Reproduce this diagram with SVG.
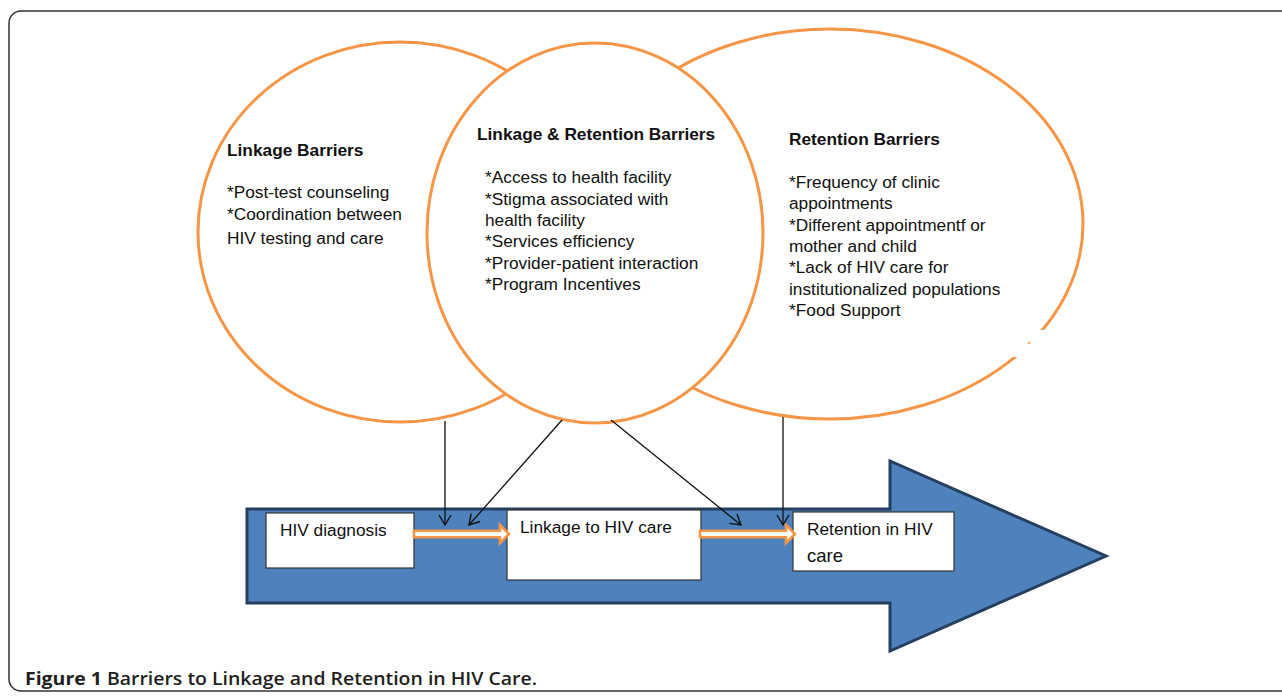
<svg xmlns="http://www.w3.org/2000/svg" width="1282" height="696" viewBox="0 0 1282 696">
<style>
.ell{fill:#fff;stroke:#f79646;stroke-width:3}
.t{font-family:"Liberation Sans",Arial,sans-serif;font-size:17.3px;fill:#111}
.b{font-weight:bold}
.box{fill:#fff;stroke:#333;stroke-width:1.2}
.conn{stroke:#111;stroke-width:1.3;fill:none}
.oarr{fill:#fff;stroke:#f79646;stroke-width:2.6;stroke-linejoin:miter}
</style>
<defs>
<marker id="open" markerUnits="userSpaceOnUse" markerWidth="14" markerHeight="14" viewBox="0 0 14 14" refX="12" refY="7" orient="auto">
<path d="M2,1 L12,7 L2,13" fill="none" stroke="#111" stroke-width="1.4"/>
</marker>
</defs>
<rect width="1282" height="696" fill="#fff"/>
<rect x="9" y="11" width="1300" height="680" rx="12" ry="12" fill="none" stroke="#333" stroke-width="1.5"/>

<g id="retention-barriers">
<ellipse class="ell" cx="830" cy="224" rx="253" ry="195"/>
<path d="M1030,330 H1050 V357 H1008 V344 H1030 Z" fill="#fff"/>
<text class="t b" x="789" y="145">Retention Barriers</text>
<text class="t" x="789" y="188">*Frequency of clinic</text>
<text class="t" x="789" y="209">appointments</text>
<text class="t" x="789" y="231">*Different appointmentf or</text>
<text class="t" x="789" y="252">mother and child</text>
<text class="t" x="789" y="273">*Lack of HIV care for</text>
<text class="t" x="789" y="295">institutionalized populations</text>
<text class="t" x="789" y="316">*Food Support</text>
</g>

<g id="linkage-barriers">
<ellipse class="ell" cx="400" cy="232" rx="202" ry="190"/>
<text class="t b" x="227" y="156">Linkage Barriers</text>
<text class="t" x="227" y="198">*Post-test counseling</text>
<text class="t" x="227" y="220">*Coordination between</text>
<text class="t" x="227" y="244">HIV testing and care</text>
</g>

<g id="linkage-retention-barriers">
<ellipse class="ell" cx="595" cy="233" rx="168" ry="190"/>
<text class="t b" x="477" y="140">Linkage &amp; Retention Barriers</text>
<text class="t" x="485" y="183">*Access to health facility</text>
<text class="t" x="485" y="205">*Stigma associated with</text>
<text class="t" x="485" y="226">health facility</text>
<text class="t" x="485" y="247">*Services efficiency</text>
<text class="t" x="485" y="269">*Provider-patient interaction</text>
<text class="t" x="485" y="290">*Program Incentives</text>
</g>

<g id="big-arrow">
<path d="M247,509 H890 V461 L1106,556 L890,651 V603 H247 Z" fill="#4f81bd" stroke="#243f60" stroke-width="3" stroke-linejoin="miter"/>
</g>

<g id="hiv-diagnosis">
<rect class="box" x="266" y="513" width="148" height="55"/>
<text class="t" x="280" y="536">HIV diagnosis</text>
</g>
<g id="linkage-to-care">
<rect class="box" x="507" y="510" width="194" height="70"/>
<text class="t" x="520" y="533">Linkage to HIV care</text>
</g>
<g id="retention-in-care">
<rect class="box" x="793" y="512" width="161" height="59"/>
<text class="t" x="807" y="535">Retention in HIV</text>
<text class="t" x="807" y="562" style="font-size:18.5px">care</text>
</g>

<g id="connectors">
<path class="oarr" d="M414,530.8 H500 V525 L509,534 L500,543 V537.2 H414 Z"/>
<path class="oarr" d="M700,530.8 H786 V525 L795,534 L786,543 V537.2 H700 Z"/>
<line class="conn" x1="445" y1="421" x2="445" y2="525" marker-end="url(#open)"/>
<line class="conn" x1="562" y1="420" x2="469" y2="525" marker-end="url(#open)"/>
<line class="conn" x1="611" y1="420" x2="741" y2="525" marker-end="url(#open)"/>
<line class="conn" x1="783" y1="417" x2="783" y2="525" marker-end="url(#open)"/>
</g>

<text x="25" y="685" style="font-family:'Open Sans','Liberation Sans',sans-serif;font-size:18px;fill:#231f20;font-weight:600" textLength="512" lengthAdjust="spacingAndGlyphs"><tspan font-weight="bold">Figure 1</tspan> Barriers to Linkage and Retention in HIV Care.</text>
</svg>
